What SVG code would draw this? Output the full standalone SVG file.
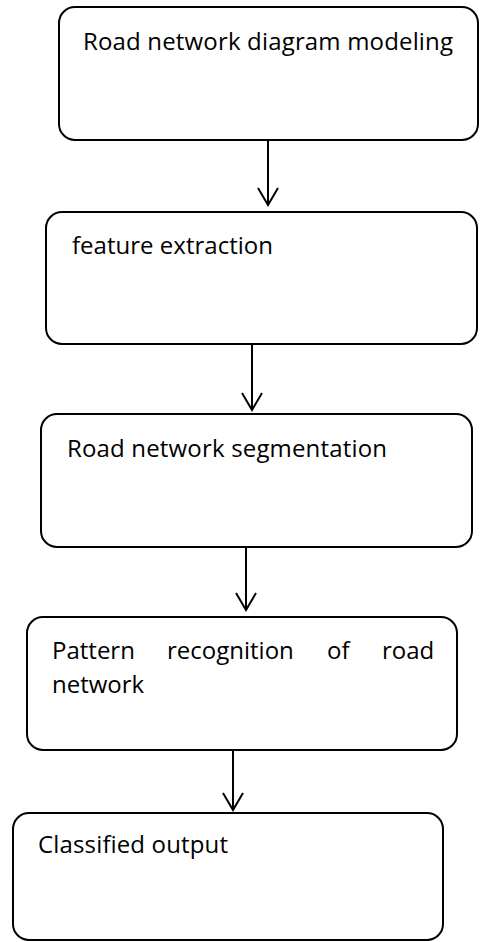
<svg xmlns="http://www.w3.org/2000/svg" width="480" height="942" viewBox="0 0 480 942">
<style>
.box{fill:#fff;stroke:#000;stroke-width:2}
.t{font-family:"Open Sans","Liberation Sans",sans-serif;font-size:24px;fill:#000}
.c{stroke:#000;stroke-width:2;fill:none}
</style>
<defs>
<marker id="arr" markerUnits="userSpaceOnUse" markerWidth="24" markerHeight="24" viewBox="-20 -12 24 24" refX="0" refY="0" orient="auto">
<path d="M-17,-10 L0,0 L-17,10" fill="none" stroke="#000" stroke-width="2"/>
</marker>
</defs>
<rect width="480" height="942" fill="#fff"/>
<g id="connectors">
<line class="c" x1="268" y1="140" x2="268" y2="205" marker-end="url(#arr)"/>
<line class="c" x1="252" y1="344" x2="252" y2="410" marker-end="url(#arr)"/>
<line class="c" x1="246" y1="547" x2="246" y2="610" marker-end="url(#arr)"/>
<line class="c" x1="233" y1="750" x2="233" y2="810" marker-end="url(#arr)"/>
</g>
<g id="n1">
<rect class="box" x="59" y="7" width="419" height="133" rx="16"/>
<text class="t" x="83" y="50" textLength="370">Road network diagram modeling</text>
</g>
<g id="n2">
<rect class="box" x="46" y="212" width="431" height="132" rx="16"/>
<text class="t" x="72" y="254" textLength="201">feature extraction</text>
</g>
<g id="n3">
<rect class="box" x="41" y="414" width="431" height="133" rx="16"/>
<text class="t" x="67" y="457" textLength="320">Road network segmentation</text>
</g>
<g id="n4">
<rect class="box" x="27" y="617" width="430" height="133" rx="16"/>
<text class="t" y="659"><tspan x="52">Pattern</tspan><tspan x="167">recognition</tspan><tspan x="327">of</tspan><tspan x="382">road</tspan></text>
<text class="t" x="52" y="693">network</text>
</g>
<g id="n5">
<rect class="box" x="13" y="813" width="430" height="127" rx="16"/>
<text class="t" x="38" y="853" textLength="190">Classified output</text>
</g>
</svg>
